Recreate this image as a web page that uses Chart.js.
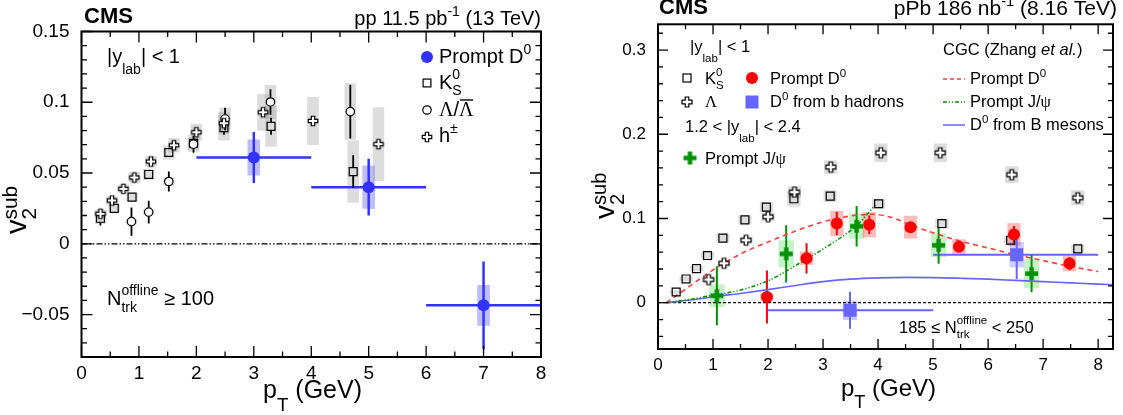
<!DOCTYPE html>
<html><head><meta charset="utf-8">
<script src="https://cdn.jsdelivr.net/npm/chart.js@4.4.1/dist/chart.umd.min.js"></script>
<style>
html,body{margin:0;padding:0;background:#fff;width:1123px;height:415px;overflow:hidden}
#c1{position:absolute;left:0;top:0}
#c2{position:absolute;left:560px;top:0}
</style></head><body>
<canvas id="c1" width="560" height="415"></canvas>
<canvas id="c2" width="563" height="415"></canvas>
<script>
// ================= DATA: left panel (pp 13 TeV) =================
const ppXTicks = [0,1,2,3,4,5,6,7,8];
const ppYTicks = [-0.05,0,0.05,0.1,0.15];
const ppYTickLabels = ['\u22120.05','0','0.05','0.1','0.15'];

const ppD0_x    = [3, 5, 7];
const ppD0_y    = [0.061, 0.040, -0.0435];
const ppD0_stat = [0.018, 0.020, 0.031];
const ppD0_syst = [0.0127, 0.0153, 0.0144];
const ppD0_xlo  = [2, 4, 6];
const ppD0_xhi  = [4, 6, 8];

const ppK0_x    = [0.33, 0.57, 0.88, 1.17, 1.52, 1.95, 2.48, 3.30, 4.73];
const ppK0_y    = [0.018, 0.025, 0.033, 0.049, 0.0645, 0.071, 0.082, 0.083, 0.051];
const ppK0_stat = [0.005, 0.002, 0.002, 0.002, 0.002, 0.003, 0.005, 0.006, 0.0115];
const ppK0_syst = [0.004, 0.003, 0.003, 0.004, 0.005, 0.006, 0.009, 0.0145, 0.022];

const ppLam_x    = [0.87, 1.17, 1.52, 1.95, 2.50, 3.29, 4.68];
const ppLam_y    = [0.0157, 0.0224, 0.044, 0.0704, 0.0882, 0.1002, 0.0934];
const ppLam_stat = [0.010, 0.008, 0.007, 0.006, 0.008, 0.009, 0.019];
const ppLam_syst = [0.002, 0.002, 0.003, 0.004, 0.008, 0.012, 0.020];

const ppH_x    = [0.33, 0.53, 0.73, 0.92, 1.21, 1.61, 2.00, 2.48, 3.16, 4.03, 5.17];
const ppH_y    = [0.0212, 0.0306, 0.0388, 0.0468, 0.0581, 0.0696, 0.0788, 0.0852, 0.0929, 0.0868, 0.0704];
const ppH_syst = [0.003, 0.003, 0.003, 0.004, 0.004, 0.005, 0.006, 0.008, 0.013, 0.017, 0.026];

// ================= DATA: right panel (pPb 8.16 TeV) =================
const pbXTicks = [0,1,2,3,4,5,6,7,8];
const pbYTicks = [0,0.1,0.2,0.3];
const pbYTickLabels = ['0','0.1','0.2','0.3'];

const pbK0_x    = [0.33, 0.51, 0.70, 0.90, 1.18, 1.58, 1.97, 2.47, 3.13, 4.01, 5.16, 6.41, 7.63];
const pbK0_y    = [0.0127, 0.0282, 0.0405, 0.056, 0.0766, 0.0984, 0.1135, 0.1234, 0.1265, 0.1175, 0.094, 0.0742, 0.0639];
const pbK0_syst = [0.002, 0.003, 0.003, 0.004, 0.005, 0.005, 0.006, 0.009, 0.007, 0.006, 0.006, 0.005, 0.005];

const pbLam_x    = [0.92, 1.20, 1.60, 2.00, 2.48, 3.14, 4.05, 5.13, 6.43, 7.63];
const pbLam_y    = [0.0274, 0.0468, 0.0742, 0.102, 0.1313, 0.161, 0.178, 0.178, 0.152, 0.1246];
const pbLam_syst = [0.003, 0.003, 0.004, 0.005, 0.007, 0.008, 0.011, 0.011, 0.010, 0.009];

const pbD0_x    = [1.98, 2.70, 3.25, 3.84, 4.59, 5.47, 6.47, 7.48];
const pbD0_y    = [0.0068, 0.0527, 0.094, 0.0925, 0.0897, 0.0663, 0.081, 0.0464];
const pbD0_stat = [0.0315, 0.018, 0.014, 0.011, 0.006, 0.006, 0.010, 0.008];
const pbD0_syst = [0.004, 0.008, 0.015, 0.015, 0.0135, 0.009, 0.0135, 0.009];

const pbJpsi_x    = [1.07, 2.33, 3.61, 5.10, 6.79];
const pbJpsi_y    = [0.0083, 0.058, 0.0908, 0.0682, 0.0345];
const pbJpsi_stat = [0.035, 0.034, 0.024, 0.022, 0.022];
const pbJpsi_syst = [0.0135, 0.016, 0.015, 0.014, 0.017];

const pbB_x    = [3.49, 6.52];
const pbB_y    = [-0.0091, 0.057];
const pbB_stat = [0.022, 0.029];
const pbB_syst = [0.0115, 0.015];
const pbB_xlo  = [2, 5];
const pbB_xhi  = [5, 8];

const cgcD0_x = [0.15, 0.5, 0.8, 1.2, 1.6, 2.0, 2.5, 3.0, 3.5, 3.9, 4.3, 4.6, 5.0, 5.5, 6.0, 6.5, 7.0, 7.5, 8.0];
const cgcD0_y = [0, 0.016, 0.030, 0.047, 0.061, 0.072, 0.085, 0.096, 0.103, 0.105, 0.100, 0.092, 0.083, 0.073, 0.065, 0.057, 0.050, 0.043, 0.037];
const cgcJpsi_x = [0.15, 0.6, 1.0, 1.4, 2.0, 2.6, 3.2, 3.6, 3.95];
const cgcJpsi_y = [0, 0.004, 0.009, 0.0135, 0.026, 0.048, 0.072, 0.091, 0.116];
const cgcB_x = [0.15, 0.7, 1.0, 1.5, 2.0, 2.5, 3.0, 3.5, 4.0, 4.5, 5.0, 5.5, 6.0, 6.5, 7.0, 7.5, 8.0, 8.27];
const cgcB_y = [0, 0.004, 0.007, 0.011, 0.0155, 0.0205, 0.025, 0.028, 0.0295, 0.030, 0.0298, 0.029, 0.028, 0.0265, 0.025, 0.0235, 0.022, 0.0213];

// ================= helpers =================
const FONT = '"Liberation Sans", Arial, Helvetica, sans-serif';
const SERIF = '"Liberation Serif", "Times New Roman", serif';
const pts = (xs, ys) => xs.map((x, i) => ({x: x, y: ys[i]}));

function parseRich(s){
  const out=[]; let i=0, buf='';
  const flush=()=>{ if(buf){ out.push({k:'n',t:buf}); buf=''; } };
  const group=()=>{ let d=0, j=i; for(; j<s.length; j++){ if(s[j]==='{') d++; else if(s[j]==='}'){ d--; if(d===0) break; } } const g=s.slice(i+1,j); i=j+1; return g; };
  while(i<s.length){
    const ch=s[i];
    if(ch==='_'||ch==='^'){
      flush(); i++; const g1=group(); let sub=null, sup=null; if(ch==='_') sub=g1; else sup=g1;
      if(s[i]==='_'||s[i]==='^'){ const c2=s[i]; i++; const g2=group(); if(c2==='_') sub=g2; else sup=g2; }
      out.push({k:'ss',sub:sub,sup:sup});
    } else if(s.startsWith('#it{',i)){ flush(); i+=3; out.push({k:'n',t:group(),it:true}); }
    else if(s.startsWith('#g{',i)){ flush(); i+=2; out.push({k:'n',t:group(),serif:true}); }
    else if(s.startsWith('#bar{',i)){ flush(); i+=4; out.push({k:'n',t:group(),serif:true,bar:true}); }
    else { buf+=ch; i++; }
  }
  flush(); return out;
}
function fontOf(size, seg, o){ return (o.bold?'bold ':'')+(seg.it?'italic ':'')+size.toFixed(2)+'px '+(seg.serif?SERIF:FONT); }
function drawRich(ctx, str, x, y, size, opt){
  const o=Object.assign({ss:0.7, subDrop:0.3, supRise:0.42, stackSup:0.5, stackSub:0.3, align:'left', bold:false, color:'#000'}, opt||{});
  const toks=parseRich(str);
  let w=0;
  for(const t of toks){
    if(t.k==='n'){ ctx.font=fontOf(size,t,o); w+=ctx.measureText(t.t).width; }
    else { ctx.font=fontOf(size*o.ss,{},o); w+=Math.max(t.sub!=null?ctx.measureText(t.sub).width:0, t.sup!=null?ctx.measureText(t.sup).width:0); }
  }
  let cx = o.align==='right' ? x-w : (o.align==='center' ? x-w/2 : x);
  ctx.fillStyle=o.color; ctx.textBaseline='alphabetic'; ctx.textAlign='left';
  for(const t of toks){
    if(t.k==='n'){
      ctx.font=fontOf(size,t,o); ctx.fillText(t.t,cx,y); const tw=ctx.measureText(t.t).width;
      if(t.bar){ ctx.save(); ctx.strokeStyle=o.color; ctx.lineWidth=Math.max(1,size*0.07); ctx.beginPath(); ctx.moveTo(cx+size*0.04,y-size*0.8); ctx.lineTo(cx+tw-size*0.02,y-size*0.8); ctx.stroke(); ctx.restore(); }
      cx+=tw;
    } else {
      const ss=size*o.ss; ctx.font=fontOf(ss,{},o); const both=(t.sub!=null&&t.sup!=null); let w1=0,w2=0;
      if(t.sub!=null){ ctx.fillText(t.sub,cx,y+size*(both?o.stackSub:o.subDrop)); w1=ctx.measureText(t.sub).width; }
      if(t.sup!=null){ ctx.fillText(t.sup,cx,y-size*(both?o.stackSup:o.supRise)); w2=ctx.measureText(t.sup).width; }
      cx+=Math.max(w1,w2);
    }
  }
}
function crossCanvas(size, arm, fill, stroke, lw){
  const n=Math.ceil(size+4); const c=document.createElement('canvas'); c.width=n; c.height=n;
  const g=c.getContext('2d'); const m=n/2, h=size/2, a=arm/2;
  g.beginPath(); g.moveTo(m-a,m-h); g.lineTo(m+a,m-h); g.lineTo(m+a,m-a); g.lineTo(m+h,m-a); g.lineTo(m+h,m+a); g.lineTo(m+a,m+a);
  g.lineTo(m+a,m+h); g.lineTo(m-a,m+h); g.lineTo(m-a,m+a); g.lineTo(m-h,m+a); g.lineTo(m-h,m-a); g.lineTo(m-a,m-a); g.closePath();
  if(fill){ g.fillStyle=fill; g.fill(); } if(stroke){ g.strokeStyle=stroke; g.lineWidth=lw; g.stroke(); }
  return c;
}
const openCrossL = crossCanvas(9.5, 3.4, '#fff', '#000', 1.2);
const openCrossR = crossCanvas(10, 3.6, '#fff', '#000', 1.2);
const greenCross = crossCanvas(13, 4.4, 'rgb(0,145,0)', null, 0);

function drawMarker(ctx, m, x, y){
  ctx.save();
  if(m.type==='circle'){ ctx.beginPath(); ctx.arc(x,y,m.r,0,2*Math.PI); if(m.fill){ctx.fillStyle=m.fill; ctx.fill();} if(m.stroke){ctx.strokeStyle=m.stroke; ctx.lineWidth=m.lw; ctx.stroke();} }
  else if(m.type==='square'){ const h=m.s/2; if(m.fill){ctx.fillStyle=m.fill; ctx.fillRect(x-h,y-h,m.s,m.s);} if(m.stroke){ctx.strokeStyle=m.stroke; ctx.lineWidth=m.lw; ctx.strokeRect(x-h,y-h,m.s,m.s);} }
  else if(m.type==='img'){ ctx.drawImage(m.img, x-m.img.width/2, y-m.img.height/2); }
  else if(m.type==='line'){ ctx.strokeStyle=m.color; ctx.lineWidth=m.lw; ctx.setLineDash(m.dash||[]); ctx.beginPath(); ctx.moveTo(x,y); ctx.lineTo(x+m.len,y); ctx.stroke(); }
  ctx.restore();
}

// ---- plugins ----
const errPlugin = {
  id:'errs',
  beforeDatasetsDraw(chart){
    const ctx=chart.ctx, xs=chart.scales.x, ys=chart.scales.y, a=chart.chartArea;
    ctx.save(); ctx.beginPath(); ctx.rect(a.left,a.top,a.right-a.left,a.bottom-a.top); ctx.clip();
    chart.data.datasets.forEach(ds=>{
      if(!ds.syst) return; ctx.fillStyle=ds.boxColor;
      ds.data.forEach((p,i)=>{ const x0=xs.getPixelForValue(p.x-ds.boxHalf), x1=xs.getPixelForValue(p.x+ds.boxHalf);
        const y0=ys.getPixelForValue(p.y+ds.syst[i]), y1=ys.getPixelForValue(p.y-ds.syst[i]); ctx.fillRect(x0,y0,x1-x0,y1-y0); });
    });
    chart.data.datasets.forEach(ds=>{
      if(!ds.stat && !ds.xlo) return; ctx.strokeStyle=ds.barColor; ctx.lineWidth=ds.barWidth; const gap=ds.barGap||0;
      ds.data.forEach((p,i)=>{
        const px=xs.getPixelForValue(p.x), py=ys.getPixelForValue(p.y);
        ctx.beginPath();
        if(ds.stat){ const yt=ys.getPixelForValue(p.y+ds.stat[i]), yb=ys.getPixelForValue(p.y-ds.stat[i]);
          if(yt<py-gap){ ctx.moveTo(px,yt); ctx.lineTo(px,py-gap); } if(yb>py+gap){ ctx.moveTo(px,py+gap); ctx.lineTo(px,yb); } }
        if(ds.xlo){ const xl=xs.getPixelForValue(ds.xlo[i]), xh=xs.getPixelForValue(ds.xhi[i]); ctx.moveTo(xl,py); ctx.lineTo(xh,py); }
        ctx.stroke();
      });
    });
    ctx.restore();
  }
};
const framePlugin = {
  id:'frame',
  afterDatasetsDraw(chart, args, o){
    const ctx=chart.ctx, xs=chart.scales.x, ys=chart.scales.y, a=chart.chartArea;
    ctx.save(); ctx.strokeStyle='#000'; ctx.lineWidth=o.lw; ctx.beginPath();
    const near=(v,arr)=>arr.some(t=>Math.abs(t-v)<1e-6);
    for(let k=Math.ceil(xs.min/o.xMinor-1e-6); k*o.xMinor<=xs.max+1e-9; k++){
      const v=k*o.xMinor, px=xs.getPixelForValue(v), L=near(v,o.xMajor)?o.major:o.minor;
      ctx.moveTo(px,a.bottom); ctx.lineTo(px,a.bottom-L); ctx.moveTo(px,a.top); ctx.lineTo(px,a.top+L);
    }
    for(let k=Math.ceil(ys.min/o.yMinor-1e-6); k*o.yMinor<=ys.max+1e-9; k++){
      const v=k*o.yMinor, py=ys.getPixelForValue(v), L=near(v,o.yMajor)?o.major:o.minor;
      ctx.moveTo(a.left,py); ctx.lineTo(a.left+L,py); ctx.moveTo(a.right,py); ctx.lineTo(a.right-L,py);
    }
    ctx.stroke();
    ctx.lineWidth=o.frame; ctx.strokeRect(a.left,a.top,a.right-a.left,a.bottom-a.top);
    ctx.restore();
  }
};
const annotPlugin = {
  id:'annot',
  afterDraw(chart, args, o){
    const ctx=chart.ctx;
    (o.items||[]).forEach(it=>{
      ctx.save();
      if(it.marker){ drawMarker(ctx, it.marker, it.x, it.y); }
      else if(it.rot){ ctx.translate(it.x,it.y); ctx.rotate(it.rot*Math.PI/180); drawRich(ctx,it.s,0,0,it.size,it.opt); }
      else drawRich(ctx,it.s,it.x,it.y,it.size,it.opt);
      ctx.restore();
    });
  }
};

function axes(xMin,xMax,yMin,yMax,xT,yT,yLab,yW,xH,yFont,xFont,yPad,xPad){
  return {
    x:{type:'linear',min:xMin,max:xMax,afterBuildTicks:s=>{s.ticks=xT.map(v=>({value:v}));},afterFit:s=>{s.height=xH;},
       grid:{display:false},border:{display:false},
       ticks:{padding:xPad,color:'#000',font:{family:FONT,size:xFont},autoSkip:false,maxRotation:0,callback:(v,i)=>String(xT[i])}},
    y:{type:'linear',min:yMin,max:yMax,afterBuildTicks:s=>{s.ticks=yT.map(v=>({value:v}));},afterFit:s=>{s.width=yW;},
       grid:{display:false},border:{display:false},
       ticks:{padding:yPad,color:'#000',font:{family:FONT,size:yFont},autoSkip:false,callback:(v,i)=>yLab[i]}}
  };
}
const common = {responsive:false, animation:false, devicePixelRatio:1, events:[]};

// ================= LEFT CHART =================
const PP_XMIN=0, PP_XMAX=8, PP_YMIN=-0.08, PP_YMAX=0.15;
const GRAYBOX='rgba(160,160,160,0.36)';
new Chart(document.getElementById('c1'), {
  type:'scatter',
  data:{datasets:[
    {label:'Prompt D0', data:pts(ppD0_x,ppD0_y), pointStyle:'circle', pointRadius:6, backgroundColor:'rgb(51,51,255)', borderColor:'rgb(51,51,255)', borderWidth:0,
     stat:ppD0_stat, syst:ppD0_syst, xlo:ppD0_xlo, xhi:ppD0_xhi, boxHalf:0.11, boxColor:'rgba(51,51,255,0.33)', barColor:'rgb(51,51,255)', barWidth:2.5, order:1},
    {label:'h', data:pts(ppH_x,ppH_y), pointStyle:openCrossL, pointRadius:4, syst:ppH_syst, boxHalf:0.1, boxColor:GRAYBOX, order:2},
    {label:'Lambda', data:pts(ppLam_x,ppLam_y), pointStyle:'circle', pointRadius:4.2, backgroundColor:'#fff', borderColor:'#000', borderWidth:1.2,
     stat:ppLam_stat, syst:ppLam_syst, boxHalf:0.1, boxColor:GRAYBOX, barColor:'#000', barWidth:1.8, barGap:4.5, order:3},
    {label:'K0S', data:pts(ppK0_x,ppK0_y), pointStyle:'rect', pointRadius:5.6, backgroundColor:'rgba(0,0,0,0)', borderColor:'#000', borderWidth:1.2,
     stat:ppK0_stat, syst:ppK0_syst, boxHalf:0.1, boxColor:GRAYBOX, barColor:'#000', barWidth:1.8, barGap:4, order:4},
    {label:'zero', data:[{x:PP_XMIN,y:0},{x:PP_XMAX,y:0}], showLine:true, pointRadius:0, borderColor:'#000', borderWidth:1.3, borderDash:[6,2,1.5,2,1.5,2], order:9}
  ]},
  options:Object.assign({}, common, {
    layout:{padding:{left:0,top:31.5,right:19,bottom:0}},
    scales:axes(PP_XMIN,PP_XMAX,PP_YMIN,PP_YMAX,ppXTicks,ppYTicks,ppYTickLabels,81.5,58,19,19,4,-3),
    plugins:{legend:{display:false},tooltip:{enabled:false},
      frame:{lw:1.3,frame:2,major:11,minor:5.5,xMajor:ppXTicks,xMinor:0.5,yMajor:ppYTicks,yMinor:0.01},
      annot:{items:[
        {s:'CMS', x:84, y:23, size:22, opt:{bold:true}},
        {s:'pp 11.5 pb^{-1} (13 TeV)', x:541, y:25, size:20, opt:{align:'right', supRise:0.45}},
        {s:'|y_{lab}| < 1', x:107, y:63, size:20, opt:{subDrop:0.55}},
        {s:'N_{trk}^{offline} \u2265 100', x:107, y:305, size:20, opt:{stackSub:0.35, stackSup:0.5}},
        {marker:{type:'circle', r:6, fill:'rgb(51,51,255)'}, x:427, y:57},
        {s:'Prompt D^{0}', x:439, y:63, size:20, opt:{supRise:0.47}},
        {marker:{type:'square', s:7.8, stroke:'#000', lw:1.2}, x:427, y:83},
        {s:'K_{S}^{0}', x:439, y:89, size:20},
        {marker:{type:'circle', r:4.2, fill:'#fff', stroke:'#000', lw:1.2}, x:427, y:110},
        {s:'#g{\u039B}/#bar{\u039B}', x:439, y:116, size:20},
        {marker:{type:'img', img:openCrossL}, x:427, y:137},
        {s:'h^{\u00B1}', x:439, y:142, size:20, opt:{supRise:0.45}},
        {s:'v_{2}^{sub}', x:26, y:234, size:29, rot:-90, opt:{stackSub:0.34, stackSup:0.3, ss:0.72}},
        {s:'p_{T} (GeV)', x:263, y:398, size:25, opt:{subDrop:0.5, ss:0.75}}
      ]}
    }
  }),
  plugins:[errPlugin, framePlugin, annotPlugin]
});

// ================= RIGHT CHART =================
const PB_XMIN=0, PB_XMAX=8.27, PB_YMIN=-0.055, PB_YMAX=0.3306;
new Chart(document.getElementById('c2'), {
  type:'scatter',
  data:{datasets:[
    {label:'D0 from b', data:pts(pbB_x,pbB_y), pointStyle:'rect', pointRadius:9.2, backgroundColor:'rgb(102,102,255)', borderWidth:0,
     stat:pbB_stat, syst:pbB_syst, xlo:pbB_xlo, xhi:pbB_xhi, boxHalf:0.13, boxColor:'rgba(102,102,255,0.33)', barColor:'rgb(102,102,255)', barWidth:2, order:1},
    {label:'Jpsi', data:pts(pbJpsi_x,pbJpsi_y), pointStyle:greenCross, pointRadius:5,
     stat:pbJpsi_stat, syst:pbJpsi_syst, boxHalf:0.14, boxColor:'rgba(0,190,0,0.22)', barColor:'rgb(0,145,0)', barWidth:2, order:2},
    {label:'D0', data:pts(pbD0_x,pbD0_y), pointStyle:'circle', pointRadius:6, backgroundColor:'rgb(255,0,0)', borderWidth:0,
     stat:pbD0_stat, syst:pbD0_syst, boxHalf:0.12, boxColor:'rgba(255,0,0,0.27)', barColor:'rgb(255,0,0)', barWidth:2, order:3},
    {label:'Lambda', data:pts(pbLam_x,pbLam_y), pointStyle:openCrossR, pointRadius:4, syst:pbLam_syst, boxHalf:0.12, boxColor:GRAYBOX, order:4},
    {label:'K0S', data:pts(pbK0_x,pbK0_y), pointStyle:'rect', pointRadius:5.6, backgroundColor:'rgba(0,0,0,0)', borderColor:'#000', borderWidth:1.2,
     syst:pbK0_syst, boxHalf:0.12, boxColor:GRAYBOX, order:5},
    {label:'CGC D0', data:pts(cgcD0_x,cgcD0_y), showLine:true, pointRadius:0, borderColor:'rgb(255,60,60)', borderWidth:1.6, borderDash:[5,4], cubicInterpolationMode:'monotone', order:6},
    {label:'CGC Jpsi', data:pts(cgcJpsi_x,cgcJpsi_y), showLine:true, pointRadius:0, borderColor:'rgb(0,150,0)', borderWidth:1.6, borderDash:[4,2,1.2,2,1.2,2], cubicInterpolationMode:'monotone', order:7},
    {label:'CGC B', data:pts(cgcB_x,cgcB_y), showLine:true, pointRadius:0, borderColor:'rgb(102,102,255)', borderWidth:1.6, cubicInterpolationMode:'monotone', order:8},
    {label:'zero', data:[{x:PB_XMIN,y:0},{x:PB_XMAX,y:0}], showLine:true, pointRadius:0, borderColor:'#000', borderWidth:1.2, borderDash:[3,2], order:9}
  ]},
  options:Object.assign({}, common, {
    layout:{padding:{left:0,top:24.3,right:10,bottom:0}},
    scales:axes(PB_XMIN,PB_XMAX,PB_YMIN,PB_YMAX,pbXTicks,pbYTicks,pbYTickLabels,98,66,17,17,4,-2),
    plugins:{legend:{display:false},tooltip:{enabled:false},
      frame:{lw:1.3,frame:2,major:10,minor:5,xMajor:pbXTicks,xMinor:0.5,yMajor:pbYTicks,yMinor:0.02},
      annot:{items:[
        {s:'CMS', x:99, y:14, size:22, opt:{bold:true}},
        {s:'pPb 186 nb^{-1} (8.16 TeV)', x:557, y:15, size:21, opt:{align:'right', supRise:0.45}},
        {s:'|y_{lab}| < 1', x:130, y:52, size:16.5, opt:{subDrop:0.6}},
        {marker:{type:'square', s:8, stroke:'#000', lw:1.2}, x:127, y:78},
        {s:'K_{S}^{0}', x:145, y:84, size:16.5},
        {marker:{type:'circle', r:6, fill:'rgb(255,0,0)'}, x:192, y:78},
        {s:'Prompt D^{0}', x:210, y:84, size:16.5},
        {marker:{type:'img', img:openCrossR}, x:127, y:102},
        {s:'#g{\u039B}', x:145, y:107, size:16.5},
        {marker:{type:'square', s:13, fill:'rgb(102,102,255)'}, x:192, y:102},
        {s:'D^{0} from b hadrons', x:210, y:107, size:16.5},
        {s:'1.2 < |y_{lab}| < 2.4', x:125, y:132, size:16.5, opt:{subDrop:0.6}},
        {marker:{type:'img', img:greenCross}, x:130, y:158},
        {s:'Prompt J/#g{\u03C8}', x:145, y:164, size:16.5},
        {s:'CGC (Zhang #it{et al.})', x:383, y:55, size:16.5},
        {marker:{type:'line', len:22, color:'rgb(255,60,60)', lw:1.5, dash:[4,3]}, x:383, y:79},
        {s:'Prompt D^{0}', x:410, y:84, size:16.5},
        {marker:{type:'line', len:22, color:'rgb(0,150,0)', lw:1.5, dash:[4,2,1,2,1,2]}, x:383, y:102},
        {s:'Prompt J/#g{\u03C8}', x:410, y:107, size:16.5},
        {marker:{type:'line', len:22, color:'rgb(102,102,255)', lw:1.5}, x:383, y:125},
        {s:'D^{0} from B mesons', x:410, y:130, size:16.5},
        {s:'185 \u2264 N_{trk}^{offline} < 250', x:339, y:333, size:16.5, opt:{stackSub:0.3, stackSup:0.55}},
        {s:'v_{2}^{sub}', x:54, y:219, size:28, rot:-90, opt:{stackSub:0.34, stackSup:0.3, ss:0.72}},
        {s:'p_{T} (GeV)', x:281, y:396, size:24, opt:{subDrop:0.5, ss:0.75}}
      ]}
    }
  }),
  plugins:[errPlugin, framePlugin, annotPlugin]
});
</script>
</body></html>
